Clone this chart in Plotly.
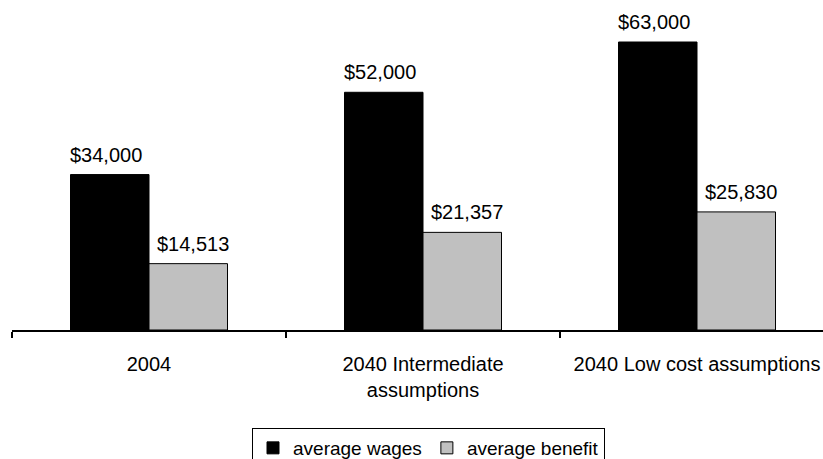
import plotly.graph_objects as go

categories = ["2004", "2040 Intermediate<br>assumptions", "2040 Low cost assumptions"]
wages = [34000, 52000, 63000]
benefit = [14513, 21357, 25830]
series_names = ["average wages", "average benefit"]
series_colors = ["#000000", "#C0C0C0"]

FONT = "Liberation Sans, Arial, sans-serif"
FSIZE = 20

fig = go.Figure()
for name, vals, col in zip(series_names, [wages, benefit], series_colors):
    fig.add_trace(go.Bar(
        name=name, x=categories, y=vals,
        marker=dict(color=col, line=dict(color="#000000", width=1)),
        hoverinfo="skip",
    ))

# value labels above each bar
offsets = [-0.5, 0.5]  # which half of the group each series occupies
label_nudge = [-4, 5]
group_frac = 1 - 0.427
for k, vals in enumerate([wages, benefit]):
    for i, v in enumerate(vals):
        fig.add_annotation(
            x=i + offsets[k] * group_frac / 2, y=v, xref="x", yref="y",
            text="${:,}".format(v), showarrow=False,
            yanchor="bottom", yshift=7, xshift=label_nudge[k],
            font=dict(family=FONT, size=FSIZE, color="#000000"),
        )

fig.update_layout(
    width=823, height=459,
    margin=dict(l=12, r=0, t=10, b=129),
    paper_bgcolor="white", plot_bgcolor="white",
    barmode="group", bargap=0.427, bargroupgap=0,
    font=dict(family=FONT, size=FSIZE, color="#000000"),
    showlegend=True,
    legend=dict(
        orientation="h", x=252 / 823, y=(459 - 428) / 459,
        xref="container", yref="container", xanchor="left", yanchor="top",
        bgcolor="white", bordercolor="#000000", borderwidth=1,
        font=dict(family=FONT, size=19, color="#000000"),
        itemwidth=30, traceorder="normal",
    ),
)
fig.update_xaxes(
    type="category", range=[-0.5, -0.5 + 811 / 274],
    showline=True, linecolor="#000000", linewidth=2,
    ticks="outside", tickson="boundaries", ticklen=6, tickwidth=2, tickcolor="#000000",
    ticklabelstandoff=15, showgrid=False, zeroline=False,
    tickfont=dict(family=FONT, size=FSIZE, color="#000000"),
)
fig.update_yaxes(range=[0, 70000], visible=False, showgrid=False, zeroline=False)

fig.write_html("out.html")
